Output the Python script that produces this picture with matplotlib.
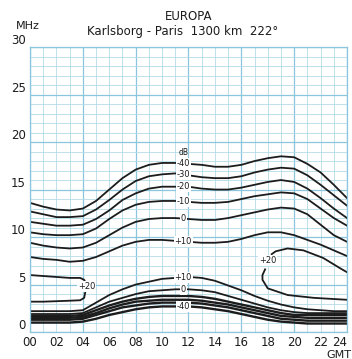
import numpy as np
import matplotlib.pyplot as plt

# hourly readings, 00..24 GMT, frequency in MHz
hours = np.arange(0, 25)

# contours above the MUF (field strength, dB)
up_m40 = [13.6, 13.2, 12.9, 12.8, 13.0, 13.8, 15.0, 16.2, 17.1, 17.6, 17.8, 17.8, 17.7,
          17.6, 17.4, 17.4, 17.6, 18.0, 18.3, 18.5, 18.4, 17.7, 16.8, 15.5, 14.1]
up_m30 = [12.7, 12.4, 12.1, 12.1, 12.2, 12.9, 13.9, 15.0, 15.9, 16.4, 16.6, 16.7, 16.5,
          16.3, 16.2, 16.2, 16.4, 16.8, 17.1, 17.3, 17.2, 16.5, 15.5, 14.4, 13.3]
up_m20 = [11.6, 11.4, 11.2, 11.2, 11.3, 11.9, 12.8, 13.9, 14.6, 15.1, 15.3, 15.3, 15.3,
          15.1, 15.0, 15.0, 15.2, 15.5, 15.8, 16.0, 15.8, 15.1, 14.1, 13.0, 12.0]
up_m10 = [10.5, 10.3, 10.2, 10.2, 10.3, 10.9, 11.9, 12.8, 13.4, 13.7, 13.8, 13.8, 13.7,
          13.6, 13.6, 13.7, 14.0, 14.3, 14.5, 14.7, 14.6, 14.0, 13.0, 12.0, 11.2]
up_0 = [9.4, 9.1, 8.9, 8.8, 8.9, 9.4, 10.2, 11.0, 11.6, 11.9, 12.0, 12.0, 11.9,
        11.8, 11.8, 12.0, 12.3, 12.6, 12.9, 13.1, 13.0, 12.4, 11.3, 10.2, 9.5]
up_p10 = [7.9, 7.7, 7.6, 7.4, 7.5, 7.9, 8.5, 9.1, 9.5, 9.7, 9.7, 9.6, 9.5,
          9.4, 9.4, 9.5, 9.8, 10.2, 10.5, 10.5, 10.2, 9.7, 9.2, 8.6, 8.0]
upper = [up_m40, up_m30, up_m20, up_m10, up_0, up_p10]
upper_labels = ['-40', '-30', '-20', '-10', '0', '+10']

# absorption contours at the low end
lo_p10 = [2.2, 2.2, 2.2, 2.2, 2.3, 3.1, 3.9, 4.5, 5.0, 5.3, 5.6, 5.7, 5.8,
          5.7, 5.4, 4.9, 4.4, 3.8, 3.3, 2.9, 2.6, 2.4, 2.3, 2.2, 2.2]
lo_0 = [1.9, 1.9, 1.9, 1.9, 2.0, 2.6, 3.2, 3.6, 4.0, 4.3, 4.4, 4.5, 4.5,
        4.4, 4.2, 3.8, 3.4, 3.0, 2.6, 2.3, 2.1, 2.0, 2.0, 2.0, 2.0]
lo_m10 = [1.7, 1.7, 1.7, 1.7, 1.8, 2.3, 2.8, 3.2, 3.5, 3.7, 3.8, 3.8, 3.8,
          3.7, 3.5, 3.2, 2.9, 2.6, 2.3, 2.0, 1.8, 1.8, 1.8, 1.8, 1.8]
lo_m20 = [1.5, 1.5, 1.5, 1.5, 1.6, 2.0, 2.5, 2.9, 3.2, 3.3, 3.4, 3.4, 3.4,
          3.3, 3.1, 2.9, 2.6, 2.3, 2.0, 1.7, 1.6, 1.5, 1.5, 1.5, 1.5]
lo_m30 = [1.3, 1.3, 1.3, 1.3, 1.4, 1.8, 2.2, 2.6, 2.8, 3.0, 3.1, 3.1, 3.1,
          3.0, 2.8, 2.6, 2.3, 2.0, 1.7, 1.4, 1.3, 1.2, 1.2, 1.2, 1.2]
lo_m40 = [1.0, 1.0, 1.0, 1.0, 1.1, 1.4, 1.8, 2.1, 2.4, 2.6, 2.7, 2.7, 2.7,
          2.6, 2.4, 2.2, 1.9, 1.6, 1.3, 1.1, 1.0, 0.9, 0.9, 0.9, 0.9]
lower = [lo_p10, lo_0, lo_m10, lo_m20, lo_m30, lo_m40]

# +20 dB island, wraps round midnight
r20_top_h = [18.3, 18.6, 19.5, 20.7, 22.2, 23.5, 24.0]
r20_top_f = [8.2, 8.5, 8.8, 8.6, 7.8, 6.7, 6.3]
r20_bot_h = [17.8, 17.6, 17.6, 18.0, 19.5, 21.5, 24.0]
r20_bot_f = [6.6, 6.0, 5.5, 4.6, 3.9, 3.6, 3.4]
l20_top_h = [0.0, 1.0, 2.0, 3.0, 3.8, 4.1, 4.2]
l20_top_f = [6.0, 5.9, 5.8, 5.7, 5.7, 5.5, 5.2]
l20_bot_h = [4.2, 4.1, 3.8, 3.0, 2.0, 1.0, 0.0]
l20_bot_f = [4.3, 3.6, 3.35, 3.3, 3.25, 3.2, 3.2]

xticks = np.arange(0, 25, 2)
xlabels = ['%02d' % h for h in xticks]
yticks = np.arange(0, 31, 5)

ink = '#1c1c1c'
fig = plt.figure(figsize=(3.52, 3.59), dpi=100)
ax = fig.add_axes([0.0852, 0.075, 0.9006, 0.794])
ax.set_xlim(0, 24)
ax.set_ylim(0, 30)

# graph paper
for h in range(25):
    major = h % 4 == 0
    ax.axvline(h, color='#8cc6dc' if major else '#b4dbe9', lw=0.9 if major else 0.6, zorder=0)
for f in range(31):
    major = f % 5 == 0
    ax.axhline(f, color='#8cc6dc' if major else '#b4dbe9', lw=0.9 if major else 0.6, zorder=0)
for s in ax.spines.values():
    s.set_color('#8cc6dc')
    s.set_linewidth(0.9)

for curve in upper:
    ax.plot(hours, curve, color=ink, lw=1.3, solid_joinstyle='round', zorder=2)
for i, curve in enumerate(lower):
    ax.plot(hours, curve, color=ink, lw=1.3 if i < 2 else 1.7, solid_joinstyle='round', zorder=2)
for hh, ff in [(r20_top_h, r20_top_f), (r20_bot_h, r20_bot_f),
               (l20_top_h, l20_top_f), (l20_bot_h, l20_bot_f)]:
    ax.plot(hh, ff, color=ink, lw=1.3, solid_joinstyle='round', zorder=2)

box = dict(facecolor='white', edgecolor='none', pad=0.6)
lab_h = 11.6
for curve, txt in zip(upper, upper_labels):
    ax.text(lab_h, np.interp(lab_h, hours, curve), txt, fontsize=6, ha='center',
            va='center', color=ink, bbox=box, zorder=3)
ax.text(lab_h, 18.9, 'dB', fontsize=5.5, ha='center', va='center', color=ink, zorder=3)
for curve, txt in [(lo_p10, '+10'), (lo_0, '0'), (lo_m40, '-40')]:
    ax.text(lab_h, np.interp(lab_h, hours, curve), txt, fontsize=6, ha='center',
            va='center', color=ink, bbox=box, zorder=3)
ax.text(4.3, 4.8, '+20', fontsize=6, ha='center', va='center', color=ink, bbox=box, zorder=3)
ax.text(18.0, 7.5, '+20', fontsize=6, ha='center', va='center', color=ink, bbox=box, zorder=3)

ax.set_xticks(xticks)
ax.set_xticklabels(xlabels)
ax.set_yticks(yticks)
ax.tick_params(length=0, labelsize=8.5, colors=ink, pad=3)
for t in ax.get_yticklabels():
    t.set_verticalalignment('bottom')
ax.get_xticklabels()[-1].set_horizontalalignment('right')

fig.text(0.535, 0.955, 'EUROPA', fontsize=8.5, ha='center', va='center', color=ink)
fig.text(0.52, 0.912, 'Karlsborg - Paris  1300 km  222°', fontsize=8.5, ha='center',
         va='center', color=ink)
fig.text(0.045, 0.928, 'MHz', fontsize=8, ha='left', va='center', color=ink)
fig.text(0.998, 0.012, 'GMT', fontsize=8, ha='right', va='center', color=ink)

fig.savefig('out.png', dpi=100)
